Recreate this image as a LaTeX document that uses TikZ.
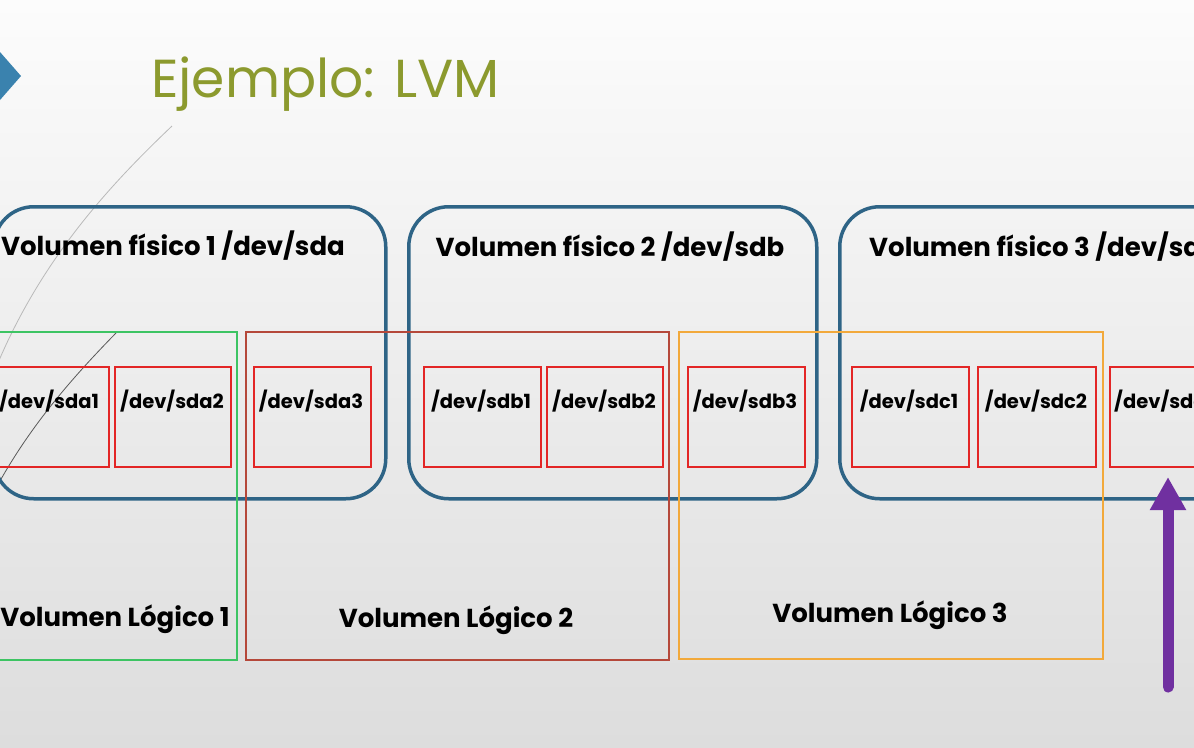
\documentclass[tikz,border=0pt]{standalone}
\usepackage{fontspec}
\setmainfont{Poppins}
\usetikzlibrary{arrows.meta}
\definecolor{pvblue}{HTML}{2E6486}
\definecolor{pred}{HTML}{E32626}
\definecolor{lvgreen}{HTML}{3DC463}
\definecolor{lvbrown}{HTML}{B5483A}
\definecolor{lvorange}{HTML}{F2A93B}
\definecolor{titleolive}{HTML}{8C9A2E}
\definecolor{diamondblue}{HTML}{3A82AE}
\definecolor{arrowpurple}{HTML}{7030A0}
\definecolor{bgtop}{HTML}{FCFCFC}
\definecolor{bgbot}{HTML}{DDDDDD}
\begin{document}
\begin{tikzpicture}[x=1pt,y=-1pt,
  pvbox/.style={draw=pvblue, line width=3.5pt, rounded corners=40pt, anchor=north west, inner sep=0pt},
  partbox/.style={draw=pred, line width=2pt, anchor=north west, inner sep=0pt, minimum width=117pt, minimum height=100pt},
  lvbox/.style={line width=2pt, anchor=north west, inner sep=0pt, minimum height=328pt},
  pvtext/.style={anchor=base, font=\fontsize{26}{30}\selectfont\bfseries, inner sep=0pt},
  lvtext/.style={anchor=base, font=\fontsize{26}{30}\selectfont\bfseries, inner sep=0pt},
  parttext/.style={anchor=base, font=\fontsize{19.5}{23}\selectfont\bfseries, inner sep=0pt},
  deco/.style={line width=0.8pt}
]
\useasboundingbox (0,0) rectangle (1194,747);
\clip (0,0) rectangle (1194,747);
\shade[top color=bgtop, bottom color=bgbot] (0,0) rectangle (1194,747);

% decorative elements
\fill[diamondblue] (0,52) -- (21,76) -- (0,100) -- (-30,76) -- cycle;
\draw[deco, gray!55] (172,126) .. controls (110,185) and (40,260) .. (-5,370);
\draw[deco, gray!70!black] (116,333) .. controls (75,375) and (30,425) .. (-5,490);

% title
\node[anchor=base west, inner sep=0pt, text=titleolive, font=\fontsize{53.5}{62}\selectfont] (title) at (151,97) {Ejemplo: LVM};

% physical volumes
\node[pvbox, minimum width=392pt, minimum height=292pt] (pv1) at (-8,205) {};
\node[pvbox, minimum width=408pt, minimum height=292pt] (pv2) at (407,205) {};
\node[pvbox, minimum width=400pt, minimum height=292pt] (pv3) at (838,205) {};
\node[pvtext] (pv1t) at (173,255) {Volumen físico 1 /dev/sda};
\node[pvtext] (pv2t) at (610,256) {Volumen físico 2 /dev/sdb};
\node[pvtext, anchor=base west] (pv3t) at (869,256) {Volumen físico 3 /dev/sdc};

% logical volumes
\node[lvbox, draw=lvgreen, minimum width=248pt] (lv1) at (-12,331) {};
\node[lvbox, draw=lvbrown, minimum width=423pt] (lv2) at (245,331) {};
\node[lvbox, draw=lvorange, minimum width=424pt, minimum height=327pt] (lv3) at (678,331) {};
\node[lvtext] (lv1t) at (115,626) {Volumen Lógico 1};
\node[lvtext] (lv2t) at (456,627) {Volumen Lógico 2};
\node[lvtext] (lv3t) at (890,622) {Volumen Lógico 3};

% partitions
\node[partbox, minimum width=118pt] (sda1) at (-10,366) {};
\node[partbox, minimum width=116pt] (sda2) at (114,366) {};
\node[partbox] (sda3) at (253,366) {};
\node[partbox] (sdb1) at (423,366) {};
\node[partbox, minimum width=116pt] (sdb2) at (546,366) {};
\node[partbox] (sdb3) at (687,366) {};
\node[partbox] (sdc1) at (851,366) {};
\node[partbox, minimum width=118pt] (sdc2) at (977,366) {};
\node[partbox] (sdc3) at (1109,366) {};
\node[parttext] at (49,408) {/dev/sda1};
\node[parttext] at (172,408) {/dev/sda2};
\node[parttext] at (311,408) {/dev/sda3};
\node[parttext] at (481,408) {/dev/sdb1};
\node[parttext] at (604,408) {/dev/sdb2};
\node[parttext] at (745,408) {/dev/sdb3};
\node[parttext] at (909,408) {/dev/sdc1};
\node[parttext] at (1036,408) {/dev/sdc2};
\node[parttext, anchor=base west] at (1114,408) {/dev/sdc3};

% purple arrow
\coordinate (arrbot) at (1168,687);
\coordinate (arrtip) at (1168,477);
\draw[arrowpurple, line width=11pt, line cap=round, -{Triangle[width=34pt,length=33pt]}] (arrbot) -- (arrtip);
\end{tikzpicture}
\end{document}
